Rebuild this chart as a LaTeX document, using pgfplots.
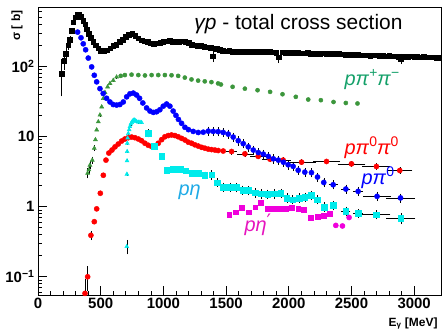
\documentclass[border=0pt]{standalone}
\usepackage{pgfplots}
\pgfplotsset{compat=1.18}
\usepackage{fontspec}
\setmainfont{Liberation Sans}
\newfontfamily\dejavu{DejaVu Sans}
\definecolor{pblue}{RGB}{0,0,255}
\definecolor{pred}{RGB}{255,0,0}
\definecolor{pgreen}{RGB}{60,150,60}
\definecolor{pgreentxt}{RGB}{20,160,105}
\definecolor{pcyan}{RGB}{0,235,235}
\definecolor{pcyantxt}{RGB}{30,170,230}
\definecolor{pmag}{RGB}{240,0,220}
\definecolor{pmagtxt}{RGB}{230,20,190}
\newcommand\up[1]{\raisebox{0.8ex}{\fontsize{14}{14}\selectfont #1}}
\begin{document}
\begin{tikzpicture}
\path[use as bounding box] (-38bp,-34bp) rectangle (404bp,295bp);
\begin{axis}[name=ax, at={(0,0)}, anchor=south west, scale only axis,
  width=403bp, height=288bp,
  xmin=0, xmax=3214, ymode=log, ymin=0.055, ymax=700,
  xtick={0,500,1000,1500,2000,2500,3000},
  xticklabels={0,500,1000,1500,2000,2500,3000},
  minor x tick num=4,
  ytick={0.1,1,10,100},
  yticklabels={10\textsuperscript{−1},1,10,10\textsuperscript{2}},
  minor ytick={0.06,0.07,0.08,0.09,0.2,0.3,0.4,0.5,0.6,0.7,0.8,0.9,2,3,4,5,6,7,8,9,20,30,40,50,60,70,80,90,200,300,400,500,600},
  tick pos=left, tick align=inside,
  major tick length=9bp, minor tick length=4.5bp,
  tick style={black, line width=0.6pt},
  axis line style={line width=0.7pt},
  ticklabel style={font=\fontsize{15}{15}\selectfont\bfseries},
  error bars/error bar style={black, line width=0.5pt},
  error bars/error mark options={black, line width=0.5pt, mark size=1.5bp},
]
% black total
\addplot[only marks, mark=square*, mark size=2.3bp, black] coordinates {
(268,324)(282,425)(300,500)(315,540)(330,545)(345,505)(360,450)(375,400)(390,340)(405,290)(420,255)(440,225)(460,200)(480,180)
(500,168)(525,166)(550,170)(575,180)(600,195)(625,205)(650,222)(675,240)(700,262)(725,282)(750,290)(775,272)(800,250)(825,236)(850,228)(875,222)(900,214)(925,208)(950,212)(975,218)(1000,224)(1025,228)(1050,230)(1075,226)(1100,222)(1125,225)(1150,228)(1175,222)(1200,215)(1225,205)(1250,200)(1275,198)(1300,195)(1325,192)(1350,188)(1375,185)(1400,182)(1425,178)(1450,172)(1475,168)(1500,165)(1525,166)(1550,163)(1575,162)(1600,164)(1625,163)(1650,160)(1675,162)(1700,161)(1725,160)(1750,162)(1775,159)(1800,160)(1825,158)(1850,160)(1875,159)(1900,157)(1950,158)(1975,156)(2000,158)(2025,157)(2050,155)(2075,156)(2100,154)(2125,153)(2150,155)(2175,152)(2200,150)(2225,152)(2250,151)(2275,153)(2300,152)(2325,150)(2350,149)(2375,151)(2400,150)(2425,148)(2450,147)(2475,146)(2500,145)(2525,144)(2550,146)(2575,144)(2600,143)(2625,144)(2650,142)(2675,143)(2700,144)(2725,142)(2750,141)(2775,140)(2800,141)(2825,139)(2850,140)(2875,138)(2925,138)(2950,137)(2975,139)(3000,137)(3025,136)(3050,135)(3075,136)(3100,135)(3125,134)(3150,134)(3175,133)(3200,133)
};
\addplot[only marks, mark=square*, mark size=2.3bp, black, error bars/.cd, y dir=both, y explicit] coordinates {
(189,79) +- (0,40) (210,119) +- (0,25) (223,152) +- (0,25) (242,199) +- (0,20) (255,240) +- (0,15)
(1395,140) +- (0,20) (1920,135) +- (0,18) (2893,128) +- (0,15)
};
% green p pi+ pi-
\addplot[only marks, mark=triangle*, mark size=2.4bp, pgreen, error bars/.cd, y dir=both, y explicit] coordinates {
(396,3.0) +- (0,0.35) (406,3.35) +- (0,0.3) (414,3.9) +- (0,0.3) (433,4.6) +- (0,0.3) (449,6.8) +- (0,0.3)
(458,9.0) +- (0,0) (468,12.4) +- (0,0) (481,16.2) +- (0,0) (494,20.2) +- (0,0) (508,26.4) +- (0,0) (521,34.9) +- (0,0) (534,42.4) +- (0,0) (555,50.9) +- (0,0) (574,56.9) +- (0,0) (600,63) +- (0,0) (627,70.3) +- (0,0)
};
\addplot[only marks, mark=*, mark size=2.1bp, pgreen] coordinates {
(660,73)(693,75)(746,76)(800,75)(853,74)(906,75)(959,75)(1012,75)(1065,74.5)(1118,73)(1171,69)(1224,65)(1277,62.5)(1330,61)(1383,59.5)(1436,57)(1459,55)
(1552,51)(1650,48)(1751,45.6)(1851,43.2)(1950,40)(2056,36.7)(2155,33.6)(2256,32.9)(2357,31)(2455,30)(2548,29.5)
};
% red p pi0 pi0
\addplot[only marks, mark=*, mark size=2.6bp, pred, error bars/.cd, x dir=both, x explicit, y dir=both, y explicit] coordinates {
(375,0.058) +- (0,0.03) (396,0.10) +- (0,0.035) (422,0.39) +- (0,0.04) (449,0.61) +- (0,0) (468,0.93) +- (0,0) (497,1.55) +- (0,0) (521,2.8) +- (0,0) (542,4.6) +- (0,0)
(565,5.8) +- (0,0) (590,6.4) +- (0,0) (614,7.1) +- (0,0) (640,7.8) +- (0,0) (667,8.6) +- (0,0) (693,9.2) +- (0,0) (720,9.6) +- (0,0) (747,9.8) +- (0,0) (773,9.6) +- (0,0) (800,9.2) +- (0,0) (826,8.7) +- (0,0) (853,8.0) +- (0,0) (879,7.5) +- (0,0) (906,7.2) +- (0,0) (932,7.3) +- (0,0) (959,8.0) +- (0,0) (986,9.0) +- (0,0)
(1012,9.9) +- (0,0) (1039,10.3) +- (0,0) (1065,10.5) +- (0,0) (1092,10.3) +- (0,0) (1118,9.9) +- (0,0) (1145,9.4) +- (0,0) (1172,8.9) +- (0,0) (1198,8.3) +- (0,0) (1225,8.0) +- (0,0) (1251,7.6) +- (0,0) (1278,7.3) +- (0,0) (1305,7.0) +- (0,0) (1331,6.8) +- (0,0) (1358,6.6) +- (0,0) (1384,6.5) +- (0,0) (1411,6.4) +- (0,0) (1437,6.3) +- (0,0) (1477,6.2) +- (0,0)
(1544,6.1) +- (30,0.3) (1650,5.65) +- (50,0.3) (1756,5.2) +- (50,0.25) (1850,4.75) +- (50,0.25) (1955,4.6) +- (50,0.25)
(2102,4.3) +- (100,0.2) (2301,4.4) +- (97,0.2) (2500,4.07) +- (98,0.2) (2699,3.73) +- (100,0.2) (2885,3.27) +- (88,0.2)
};
% blue p pi0
\addplot[only marks, mark=*, mark size=2.6bp, pblue, error bars/.cd, x dir=both, x explicit, y dir=both, y explicit] coordinates {
(316,307) +- (0,0) (343,255) +- (0,0) (361,209) +- (0,0) (380,172) +- (0,0) (401,131) +- (0,0) (428,98) +- (0,0) (449,74.5) +- (0,0) (468,60) +- (0,0) (494,48) +- (0,0) (520,41) +- (0,0) (547,35) +- (0,0) (574,31) +- (0,0) (600,28.5) +- (0,0) (627,28) +- (0,0) (653,28.5) +- (0,0) (680,31) +- (0,0) (707,36.7) +- (0,0) (733,40.5) +- (0,0) (760,41.5) +- (0,0) (786,39) +- (0,0) (810,35) +- (0,0) (836,30) +- (0,0) (866,25.5) +- (0,0) (893,23) +- (0,0) (920,22) +- (0,0) (946,22.5) +- (0,0) (972,24) +- (0,0) (999,27) +- (0,0) (1026,29) +- (0,0) (1052,27) +- (0,0) (1078,23) +- (0,0) (1100,20) +- (0,0) (1120,17.5) +- (0,0) (1145,15.4) +- (0,0) (1172,13.5) +- (0,0) (1200,12.5) +- (0,0) (1238,11.8) +- (0,0) (1278,11.4) +- (0,0) (1318,11.5) +- (0,0)
(1358,11.9) +- (0,1.2) (1398,11.8) +- (0,1.2) (1437,11.7) +- (0,1.2) (1477,11.4) +- (0,1.1) (1517,10.8) +- (0,1.1) (1557,9.8) +- (0,1.0) (1597,8.7) +- (0,0.9) (1637,7.9) +- (0,0.8) (1677,7.1) +- (0,0.7) (1717,6.4) +- (0,0.65) (1757,5.9) +- (0,0.6) (1797,5.6) +- (0,0.55) (1837,5.2) +- (0,0.5) (1877,4.8) +- (0,0.5) (1917,4.6) +- (0,0.45) (1957,4.3) +- (0,0.43) (1995,3.95) +- (0,0.4) (2035,3.75) +- (0,0.37) (2075,3.3) +- (0,0.33) (2128,3.1) +- (0,0.3) (2181,3.05) +- (0,0.3) (2229,2.64) +- (0,0.26) (2279,2.21) +- (0,0.22)
(2354,2.05) +- (25,0.2) (2455,1.78) +- (25,0.18) (2553,1.65) +- (25,0.17) (2704,1.40) +- (100,0.14) (2891,1.33) +- (105,0.13)
};
% cyan p eta
\addplot[only marks, mark=triangle*, mark size=2.3bp, pcyan, error bars/.cd, y dir=both, y explicit] coordinates {
(708,0.27) +- (0,0.05) (709,2.9) +- (0,0) (710,4.5) +- (0,0) (711,6.1) +- (0,0) (712,8.0) +- (0,0) (715,9.5) +- (0,0) (720,11.0) +- (0,0) (727,12.5) +- (0,0) (733,13.8) +- (0,0) (740,15.0) +- (0,0) (747,15.8) +- (0,0) (753,16.5) +- (0,0) (760,17.0) +- (0,0) (767,17.2) +- (0,0) (773,17.0) +- (0,0) (780,16.6) +- (0,0) (787,16.3) +- (0,0) (800,16.0) +- (0,0) (813,16.0) +- (0,0) (826,15.8) +- (0,0)
};
\addplot[only marks, mark=square*, mark size=2.8bp, pcyan, error bars/.cd, x dir=both, x explicit, y dir=both, y explicit] coordinates {
(879,11.1) +- (0,0.9) (925,7.2) +- (0,0) (985,5.2) +- (0,0)
(1026,3.3) +- (0,0) (1078,3.42) +- (0,0) (1132,3.42) +- (0,0) (1179,3.24) +- (0,0) (1225,3.0) +- (0,0) (1278,2.97) +- (0,0) (1331,2.8) +- (0,0.2) (1384,2.84) +- (0,0.3) (1429,2.2) +- (0,0.2)
(1477,1.9) +- (0,0.2) (1530,1.9) +- (0,0.2) (1580,1.88) +- (0,0.2) (1631,1.72) +- (0,0.18) (1680,1.7) +- (0,0.18) (1732,1.58) +- (0,0.17) (1780,1.53) +- (0,0.16) (1831,1.5) +- (0,0.16) (1883,1.53) +- (0,0.16) (1937,1.55) +- (0,0.16) (1985,1.33) +- (0,0.14) (2030,1.26) +- (0,0.13) (2083,1.33) +- (0,0.14) (2128,1.37) +- (0,0.14) (2181,1.45) +- (0,0.15) (2229,1.26) +- (0,0.13) (2282,0.99) +- (0,0.1) (2354,1.04) +- (0,0.11)
(2455,0.86) +- (25,0.09) (2553,0.80) +- (25,0.08) (2699,0.77) +- (100,0.08) (2893,0.68) +- (105,0.09)
};
% magenta p eta'
\addplot[only marks, mark=square*, mark size=2.4bp, pmag] coordinates {
(1525,0.77)(1578,0.83)(1626,0.96)(1679,0.83)(1732,0.98)(1777,1.13)(1831,0.93)(1879,0.93)(1929,0.94)(1977,0.94)(2024,0.96)(2075,0.93)(2122,0.90)(2176,0.69)(2229,0.71)(2277,0.75)(2327,0.79)
};
\addplot[only marks, mark=*, mark size=2.6bp, pmag] coordinates {
(2375,0.54)(2428,0.53)(2481,0.70)
};
\end{axis}
\node[anchor=base east, font=\fontsize{21}{21}\selectfont] at ([shift={(368bp,265bp)}]ax.south west) {\textit{γp} - total cross section};
\node[anchor=base west, pgreentxt, font=\fontsize{20}{20}\selectfont] at ([shift={(303bp,209bp)}]ax.south west) {\textit{pπ}\up{+}\textit{π}\up{−}};
\node[anchor=base west, pred, font=\fontsize{20}{20}\selectfont] at ([shift={(303bp,140bp)}]ax.south west) {\textit{pπ}\up{0}\textit{π}\up{0}};
\node[anchor=base west, pblue, font=\fontsize{20}{20}\selectfont] at ([shift={(320bp,110bp)}]ax.south west) {\textit{pπ}\up{0}};
\node[anchor=base west, pcyantxt, font=\fontsize{20}{20}\selectfont] at ([shift={(137bp,99bp)}]ax.south west) {\textit{pη}};
\node[anchor=base west, pmagtxt, font=\fontsize{20}{20}\selectfont] at ([shift={(203bp,63bp)}]ax.south west) {\textit{pη}\raisebox{0.3ex}{\dejavu ′}};
\node[anchor=base east, rotate=90, font=\fontsize{12}{12}\selectfont\bfseries] at ([xshift=-18bp]ax.north west) {σ [ b]};
\node[anchor=base east, font=\fontsize{12}{12}\selectfont\bfseries] at ([yshift=-31bp]ax.south east) {E\textsubscript{γ} [MeV]};
\end{tikzpicture}
\end{document}
